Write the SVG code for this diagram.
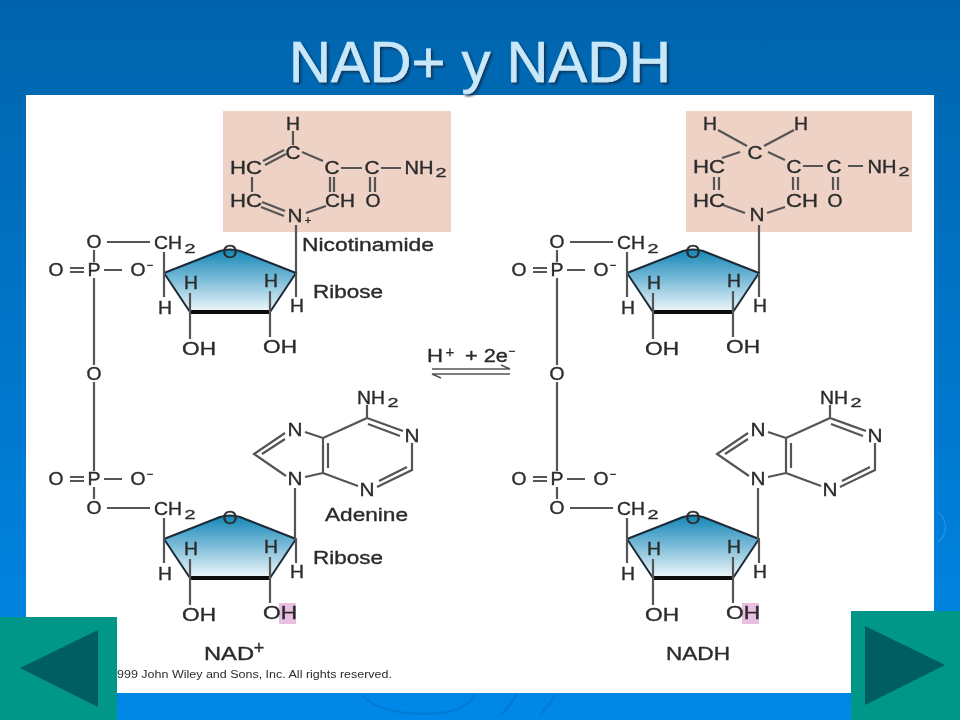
<svg xmlns="http://www.w3.org/2000/svg" width="960" height="720" viewBox="0 0 960 720">
<style>
text{font-family:"Liberation Sans",Arial,sans-serif;fill:#2b2b2b;stroke:#2b2b2b;stroke-width:.35}
.a{font-size:18px;text-anchor:middle}
.l{font-size:18px}
.s{font-size:13px;text-anchor:middle}
.m{font-size:11px;text-anchor:middle}
.b{fill:none;stroke:#555;stroke-width:2.2}
.r{stroke:#1d2b38;stroke-width:2;fill:url(#ring);stroke-linejoin:round}
.k{fill:none;stroke:#111;stroke-width:4}
.box{fill:#eed2c6}
.hl{fill:#e8bfe0}
.btn{fill:#009688}
.tri{fill:#005e60}
.sw{fill:none;stroke:#0070c4;stroke-width:2;opacity:.6}
.sw2{fill:none;stroke:#3a9ae6;stroke-width:1.5;opacity:.6}
</style>
<defs>
<linearGradient id="bg" x1="0" y1="0" x2="0" y2="1"><stop offset="0" stop-color="#0064ac"/><stop offset="1" stop-color="#0088e8"/></linearGradient>
<linearGradient id="ring" x1="0" y1="0" x2="0" y2="1"><stop offset="0" stop-color="#1486b6"/><stop offset=".45" stop-color="#74b8d6"/><stop offset="1" stop-color="#f0f8fb"/></linearGradient>
<filter id="soft" x="-5%" y="-5%" width="110%" height="110%"><feGaussianBlur stdDeviation="0.45"/></filter>
<filter id="shadow" x="-5%" y="-10%" width="110%" height="125%"><feDropShadow dx="2" dy="2" stdDeviation="1" flood-color="#0a2f50" flood-opacity=".85"/></filter>
<g id="ribose">
<path class="r" d="M164 273L220 251Q230 248 240 251L296 273L270 312H190Z"/>
<path class="k" d="M190 312H270"/>
<path class="b" d="M107 242H150M164 252V297M190 293V312M270 291V312M296 273V297M190 312V339M270 312V337"/>
<text class="a" x="230" y="258" textLength="15" lengthAdjust="spacingAndGlyphs">O</text>
<text class="a" x="168" y="249" textLength="28" lengthAdjust="spacingAndGlyphs">CH</text>
<text class="s" x="190" y="253" textLength="11" lengthAdjust="spacingAndGlyphs">2</text>
<text class="a" x="94" y="248" textLength="15" lengthAdjust="spacingAndGlyphs">O</text>
<text class="a" x="165" y="314" textLength="14" lengthAdjust="spacingAndGlyphs">H</text>
<text class="a" x="191" y="289" textLength="14" lengthAdjust="spacingAndGlyphs">H</text>
<text class="a" x="271" y="287" textLength="14" lengthAdjust="spacingAndGlyphs">H</text>
<text class="a" x="297" y="312" textLength="14" lengthAdjust="spacingAndGlyphs">H</text>
<text class="a" x="199" y="355" textLength="34" lengthAdjust="spacingAndGlyphs">OH</text>
<text class="a" x="280" y="353" textLength="34" lengthAdjust="spacingAndGlyphs">OH</text>
</g>
<g id="phosphate">
<path class="b" d="M70 268H84M70 272H84M104 270H122"/>
<text class="a" x="56" y="276" textLength="15" lengthAdjust="spacingAndGlyphs">O</text>
<text class="a" x="94" y="276" textLength="13" lengthAdjust="spacingAndGlyphs">P</text>
<text class="a" x="138" y="276" textLength="15" lengthAdjust="spacingAndGlyphs">O</text>
<text class="m" x="150" y="269">−</text>
</g>
<g id="adenine">
<path class="b" d="M367 405V418L323 438M367 418L403 431M368 424L400 436M412 443V470L377 487M407 467L379 481M358 486L323 473V438M328 443V468M323 438L305 432M285 433L254 454L286 476M285 439L262 454M305 477L323 473M295 488V540"/>
<text class="a" x="371" y="404" textLength="28" lengthAdjust="spacingAndGlyphs">NH</text>
<text class="s" x="393" y="407" textLength="11" lengthAdjust="spacingAndGlyphs">2</text>
<text class="a" x="295" y="436" textLength="15" lengthAdjust="spacingAndGlyphs">N</text>
<text class="a" x="412" y="442" textLength="15" lengthAdjust="spacingAndGlyphs">N</text>
<text class="a" x="367" y="496" textLength="15" lengthAdjust="spacingAndGlyphs">N</text>
<text class="a" x="295" y="485" textLength="15" lengthAdjust="spacingAndGlyphs">N</text>
</g>
</defs>
<rect id="background" width="960" height="720" fill="url(#bg)"/>
<g id="swirls">
<path class="sw2" d="M938 512C948 520 948 534 938 542"/>
<path class="sw" d="M362 694C370 708 400 716 440 713C460 711 470 703 475 694M500 715C508 708 514 702 516 694M540 715C546 708 552 702 555 694"/>
</g>
<rect id="panel" x="26" y="95" width="908" height="598" fill="#fff"/>
<g id="title">
<text x="480" y="82" text-anchor="middle" font-size="58" style="fill:#c8e8fa;stroke:#c8e8fa;stroke-width:.6" filter="url(#shadow)" textLength="382" lengthAdjust="spacingAndGlyphs">NAD+ y NADH</text>
</g>
<g filter="url(#soft)">
<g id="nad">
<rect class="box" x="223" y="111" width="228" height="121"/>
<rect class="hl" x="279" y="603" width="17" height="21"/>
<g id="nad-bonds">
<path class="b" d="M293 131V145M263 161L284 150M265 165L286 154M302 152L323 161M341 168H362M381 168H401M330 177V192M334 177V192M370 177V192M375 177V192M252 177V192M262 202L285 211M261 207L284 216M306 213L326 206M296 225V273M94 250V262M94 278V365M94 382V471M94 487V499"/>
</g>
<g id="nad-nicotinamide">
<text class="a" x="293" y="130" textLength="14" lengthAdjust="spacingAndGlyphs">H</text>
<text class="a" x="293" y="159" textLength="15" lengthAdjust="spacingAndGlyphs">C</text>
<text class="a" x="246" y="174" textLength="32" lengthAdjust="spacingAndGlyphs">HC</text>
<text class="a" x="332" y="174" textLength="15" lengthAdjust="spacingAndGlyphs">C</text>
<text class="a" x="372" y="174" textLength="15" lengthAdjust="spacingAndGlyphs">C</text>
<text class="a" x="419" y="174" textLength="29" lengthAdjust="spacingAndGlyphs">NH</text>
<text class="s" x="441" y="177" textLength="11" lengthAdjust="spacingAndGlyphs">2</text>
<text class="a" x="246" y="207" textLength="32" lengthAdjust="spacingAndGlyphs">HC</text>
<text class="a" x="340" y="207" textLength="30" lengthAdjust="spacingAndGlyphs">CH</text>
<text class="a" x="373" y="207" textLength="15" lengthAdjust="spacingAndGlyphs">O</text>
<text class="a" x="295" y="222" textLength="15" lengthAdjust="spacingAndGlyphs">N</text>
<text class="m" x="308" y="224">+</text>
</g>
<use href="#ribose"/>
<use href="#ribose" y="266"/>
<use href="#phosphate"/>
<use href="#phosphate" y="209"/>
<text class="a" x="94" y="380" textLength="15" lengthAdjust="spacingAndGlyphs">O</text>
<use href="#adenine"/>
<text class="l" x="302" y="251" textLength="132" lengthAdjust="spacingAndGlyphs">Nicotinamide</text>
<text class="l" x="313" y="298" textLength="70" lengthAdjust="spacingAndGlyphs">Ribose</text>
<text class="l" x="325" y="521" textLength="83" lengthAdjust="spacingAndGlyphs">Adenine</text>
<text class="l" x="313" y="564" textLength="70" lengthAdjust="spacingAndGlyphs">Ribose</text>
<text class="l" x="204" y="660" textLength="50" lengthAdjust="spacingAndGlyphs">NAD</text>
<text class="a" x="259" y="654">+</text>
<text x="117" y="678" font-size="10" textLength="275" lengthAdjust="spacingAndGlyphs" style="stroke:none">999 John Wiley and Sons, Inc. All rights reserved.</text>
</g>
<g id="reaction">
<text class="l" x="427" y="362" textLength="16" lengthAdjust="spacingAndGlyphs">H</text>
<text class="a" x="450" y="357" style="font-size:15px">+</text>
<text class="l" x="465" y="362" textLength="43" lengthAdjust="spacingAndGlyphs">+ 2e</text>
<text class="m" x="512" y="355">−</text>
<path class="b" d="M432 369H510L501 365M510 374H432L441 378" style="stroke-width:1.6"/>
</g>
<g id="nadh">
<rect class="box" x="686" y="111" width="226" height="121"/>
<rect class="hl" x="742" y="603" width="17" height="21"/>
<g id="nadh-bonds">
<path class="b" d="M718 130L747 146M794 130L764 146M722 158L740 152M768 152L785 160M803 166H823M848 166H863M714 177V190M719 177V190M793 177V190M798 177V190M833 177V190M838 177V190M723 205L745 213M767 213L785 207M759 225V273M557 250V262M557 278V365M557 382V471M557 487V499"/>
</g>
<g id="nadh-nicotinamide">
<text class="a" x="710" y="130" textLength="14" lengthAdjust="spacingAndGlyphs">H</text>
<text class="a" x="801" y="130" textLength="14" lengthAdjust="spacingAndGlyphs">H</text>
<text class="a" x="755" y="159" textLength="15" lengthAdjust="spacingAndGlyphs">C</text>
<text class="a" x="709" y="173" textLength="32" lengthAdjust="spacingAndGlyphs">HC</text>
<text class="a" x="794" y="173" textLength="15" lengthAdjust="spacingAndGlyphs">C</text>
<text class="a" x="834" y="173" textLength="15" lengthAdjust="spacingAndGlyphs">C</text>
<text class="a" x="882" y="173" textLength="29" lengthAdjust="spacingAndGlyphs">NH</text>
<text class="s" x="904" y="176" textLength="11" lengthAdjust="spacingAndGlyphs">2</text>
<text class="a" x="709" y="207" textLength="32" lengthAdjust="spacingAndGlyphs">HC</text>
<text class="a" x="802" y="207" textLength="32" lengthAdjust="spacingAndGlyphs">CH</text>
<text class="a" x="835" y="207" textLength="15" lengthAdjust="spacingAndGlyphs">O</text>
<text class="a" x="757" y="221" textLength="15" lengthAdjust="spacingAndGlyphs">N</text>
</g>
<use href="#ribose" x="463"/>
<use href="#ribose" x="463" y="266"/>
<use href="#phosphate" x="463"/>
<use href="#phosphate" x="463" y="209"/>
<text class="a" x="557" y="380" textLength="15" lengthAdjust="spacingAndGlyphs">O</text>
<use href="#adenine" x="463"/>
<text class="l" x="666" y="660" textLength="64" lengthAdjust="spacingAndGlyphs">NADH</text>
</g>
</g>
<g id="button-prev">
<rect class="btn" x="0" y="617" width="117" height="103"/>
<path class="tri" d="M20 668L98 630V707Z"/>
</g>
<g id="button-next">
<rect class="btn" x="851" y="611" width="109" height="109"/>
<path class="tri" d="M865 626L945 665L865 705Z"/>
</g>
</svg>
